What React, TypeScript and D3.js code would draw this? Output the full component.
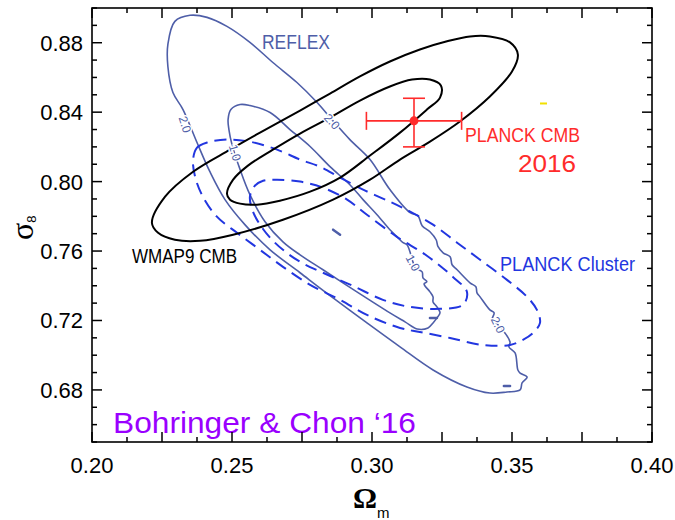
import React from "react";
import * as d3 from "d3";

// Axis tick values (Ωm on x, σ8 on y)
const xLabelTicks = [0.2, 0.25, 0.3, 0.35, 0.4];
const yLabelTicks = [0.68, 0.72, 0.76, 0.8, 0.84, 0.88];

// REFLEX cluster constraints: contour levels 2.0 and 1.0 as (Ωm, σ8) outlines
const reflexLevel2: [number, number][] = [
  [0.2271, 0.8663], [0.2271, 0.879], [0.2296, 0.8923], [0.235, 0.8958], [0.2411, 0.8946],
  [0.2482, 0.8894], [0.2564, 0.8802], [0.2646, 0.8686], [0.2732, 0.8571], [0.2804, 0.8456],
  [0.2857, 0.8357], [0.2921, 0.8242], [0.2993, 0.8127], [0.3064, 0.7954], [0.3136, 0.7821],
  [0.3164, 0.7804], [0.3179, 0.7746], [0.3207, 0.7711], [0.3229, 0.7665], [0.3236, 0.7625],
  [0.3254, 0.759], [0.3279, 0.7567], [0.3286, 0.7521], [0.3304, 0.7492], [0.335, 0.7417],
  [0.3371, 0.7394], [0.3375, 0.7359], [0.3386, 0.7336], [0.3421, 0.7261], [0.3436, 0.7244],
  [0.3429, 0.7204], [0.345, 0.7175], [0.3493, 0.7076], [0.3489, 0.7048], [0.3511, 0.7013],
  [0.3521, 0.6915], [0.3529, 0.6897], [0.3554, 0.6874], [0.3536, 0.684], [0.3529, 0.68],
  [0.3482, 0.6788], [0.3421, 0.6782], [0.3339, 0.6817], [0.3218, 0.6915], [0.31, 0.7048],
  [0.2982, 0.7186], [0.2861, 0.733], [0.2743, 0.7475], [0.2636, 0.7607], [0.2546, 0.7752],
  [0.2475, 0.7896], [0.2421, 0.8057], [0.2375, 0.8225], [0.2325, 0.8415], [0.2289, 0.8513],
];

const reflexLevel1: [number, number][] = [
  [0.2486, 0.8357], [0.2496, 0.8415], [0.2529, 0.8444], [0.2564, 0.8438], [0.2636, 0.8398],
  [0.2707, 0.83], [0.2779, 0.8202], [0.285, 0.8086], [0.2921, 0.7982], [0.2968, 0.7896],
  [0.3018, 0.7809], [0.3064, 0.7723], [0.3086, 0.7688], [0.3111, 0.7648], [0.3125, 0.7636],
  [0.3146, 0.7538], [0.3154, 0.7503], [0.3179, 0.748], [0.3182, 0.7446], [0.3196, 0.7423],
  [0.3186, 0.7411], [0.3207, 0.7365], [0.3218, 0.7336], [0.3218, 0.7307], [0.3232, 0.7278],
  [0.3243, 0.7244], [0.3232, 0.7215], [0.3218, 0.7186], [0.32, 0.7157], [0.3161, 0.7151],
  [0.3118, 0.7192], [0.3064, 0.7244], [0.2946, 0.7365], [0.2825, 0.7492], [0.2743, 0.7578],
  [0.2682, 0.7653], [0.2618, 0.7769], [0.2564, 0.7925], [0.2529, 0.8069], [0.25, 0.8213],
  [0.2489, 0.83],
];

// Small isolated REFLEX contour fragments
const reflexIslands: [number, number][][] = [
  [[0.2861, 0.7723], [0.2886, 0.7694]],
  [[0.3207, 0.7215], [0.3232, 0.7215]],
  [[0.3471, 0.6823], [0.3493, 0.6823]],
];

// Planck SZ cluster constraints (dashed)
const planckClusterOuter: [number, number][] = [
  [0.2361, 0.8127], [0.2375, 0.8196], [0.2411, 0.8225], [0.2482, 0.8242], [0.2564, 0.823],
  [0.2661, 0.8184], [0.2743, 0.8127], [0.2814, 0.8086], [0.2886, 0.8023], [0.2968, 0.7954],
  [0.3064, 0.7884], [0.3136, 0.7827], [0.3218, 0.7752], [0.3304, 0.7648], [0.3386, 0.755],
  [0.3482, 0.7434], [0.3554, 0.7336], [0.3589, 0.7261], [0.36, 0.7186], [0.3575, 0.7128],
  [0.3539, 0.7088], [0.3493, 0.7059], [0.3396, 0.7059], [0.3279, 0.7099], [0.3171, 0.7134],
  [0.31, 0.7157], [0.2982, 0.7232], [0.2886, 0.7319], [0.2779, 0.7405], [0.2682, 0.7509],
  [0.26, 0.7607], [0.2518, 0.7705], [0.2446, 0.7798], [0.2396, 0.7913], [0.2368, 0.8029],
];

const planckClusterInner: [number, number][] = [
  [0.2564, 0.7913], [0.2582, 0.7977], [0.2611, 0.8005], [0.2661, 0.8011], [0.2743, 0.8],
  [0.2825, 0.7965], [0.2911, 0.7896], [0.2982, 0.7809], [0.3089, 0.7682], [0.3196, 0.7573],
  [0.3289, 0.7451], [0.3339, 0.7365], [0.3325, 0.729], [0.3243, 0.7267], [0.3136, 0.7278],
  [0.3039, 0.7319], [0.2932, 0.7399], [0.2825, 0.7475], [0.2743, 0.7538], [0.2682, 0.7607],
  [0.2636, 0.7677], [0.26, 0.7752], [0.2575, 0.7827],
];

// WMAP9 CMB confidence ellipses
const wmapOuter: [number, number][] = [
  [0.2214, 0.7763], [0.2261, 0.7913], [0.2361, 0.8057], [0.2493, 0.8184], [0.26, 0.8282],
  [0.2743, 0.8409], [0.285, 0.8507], [0.2957, 0.8606], [0.3064, 0.8692], [0.3171, 0.8761],
  [0.3268, 0.8808], [0.335, 0.8836], [0.3421, 0.8836], [0.3493, 0.8802], [0.3521, 0.8732],
  [0.35, 0.8634], [0.3421, 0.849], [0.3314, 0.8346], [0.3207, 0.823], [0.31, 0.8127],
  [0.2993, 0.8011], [0.2861, 0.7896], [0.2682, 0.778], [0.2504, 0.7694], [0.2386, 0.7659],
  [0.2296, 0.7665], [0.2236, 0.7705],
];

const wmapInner: [number, number][] = [
  [0.2482, 0.793], [0.2504, 0.8011], [0.2557, 0.8092], [0.2646, 0.8184], [0.2743, 0.8277],
  [0.285, 0.8369], [0.2957, 0.8467], [0.3064, 0.8548], [0.3143, 0.8588], [0.3207, 0.8588],
  [0.3246, 0.8554], [0.3243, 0.8484], [0.3196, 0.8415], [0.31, 0.8282], [0.2993, 0.815],
  [0.2886, 0.8023], [0.2779, 0.7942], [0.2671, 0.789], [0.2589, 0.7867], [0.2529, 0.7873],
  [0.2493, 0.7896],
];

// Planck CMB 2016 point with errors
const planckCmb = { om: 0.315, s8: 0.835, omErr: 0.017, s8ErrUp: 0.013, s8ErrDown: 0.015 };

// Contour level labels: [Ωm, σ8, text, angle]
const levelLabels: [number, number, string, number][] = [
  [0.2332, 0.8329, "2.0", 72],
  [0.2857, 0.8346, "2.0", 48],
  [0.2511, 0.8167, "1.0", 75],
  [0.3146, 0.7532, "1.0", 62],
  [0.345, 0.7175, "2.0", 64],
];

// Stray yellow mark
const yellowMark: [number, number][] = [[0.3600, 0.845], [0.3625, 0.845]];

const SLATE = "#4e5ea8";
const BLUE = "#2236e0";
const RED = "#ff2b2b";
const PURPLE = "#9a00ff";
const SANS = "'Liberation Sans', Arial, Helvetica, sans-serif";
const SERIF = "'Liberation Serif', 'Times New Roman', serif";

export default function App() {
  const L = 92, R = 652, T = 8, B = 442;
  const x = d3.scaleLinear().domain([0.2, 0.4]).range([L, R]);
  const y = d3.scaleLinear().domain([0.65, 0.9]).range([B, T]);

  const closed = d3
    .line<[number, number]>()
    .x((d) => x(d[0]))
    .y((d) => y(d[1]))
    .curve(d3.curveCatmullRomClosed.alpha(0.5));
  const open = d3
    .line<[number, number]>()
    .x((d) => x(d[0]))
    .y((d) => y(d[1]));

  const xMajor = d3.range(0, 9).map((i) => 0.2 + i * 0.025);
  const xMinor = d3.range(0, 8).map((i) => 0.2125 + i * 0.025);
  const yMinor = d3.range(0, 26).map((i) => 0.65 + i * 0.01).filter(
    (v) => !yLabelTicks.some((t) => Math.abs(t - v) < 1e-6)
  );

  const tick = (k: string, x1: number, y1: number, x2: number, y2: number) => (
    <line key={k} x1={x1} y1={y1} x2={x2} y2={y2} stroke="#000" strokeWidth={1.5} />
  );

  return (
    <svg
      width={675}
      height={520}
      style={{ position: "absolute", left: 0, top: 0, background: "#fff" }}
    >
      <rect width={675} height={520} fill="#fff" />

      {/* REFLEX contours */}
      <g fill="none" stroke={SLATE} strokeWidth={1.6} strokeLinejoin="round">
        <path d={closed(reflexLevel2) || ""} />
        <path d={closed(reflexLevel1) || ""} />
        {reflexIslands.map((s, i) => (
          <path key={i} d={open(s) || ""} strokeWidth={2.5} strokeLinecap="round" />
        ))}
      </g>

      {/* Planck cluster contours */}
      <g fill="none" stroke={BLUE} strokeWidth={2} strokeDasharray="12 7">
        <path d={closed(planckClusterOuter) || ""} />
        <path d={closed(planckClusterInner) || ""} />
      </g>

      {/* WMAP9 ellipses */}
      <g fill="none" stroke="#000" strokeWidth={2}>
        <path d={closed(wmapOuter) || ""} />
        <path d={closed(wmapInner) || ""} />
      </g>

      {/* contour level labels */}
      {levelLabels.map(([om, s8, t, a], i) => (
        <text
          key={i}
          transform={`translate(${x(om)},${y(s8)}) rotate(${a})`}
          textAnchor="middle"
          dy="0.35em"
          fontFamily={SANS}
          fontSize={12}
          fill={SLATE}
          stroke="#fff"
          strokeWidth={3}
          paintOrder="stroke"
        >
          {t}
        </text>
      ))}

      {/* Planck CMB point */}
      <g stroke={RED} strokeWidth={1.6}>
        <line x1={x(planckCmb.om - planckCmb.omErr)} x2={x(planckCmb.om + planckCmb.omErr)} y1={y(planckCmb.s8)} y2={y(planckCmb.s8)} />
        <line x1={x(planckCmb.om)} x2={x(planckCmb.om)} y1={y(planckCmb.s8 + planckCmb.s8ErrUp)} y2={y(planckCmb.s8 - planckCmb.s8ErrDown)} />
        <line x1={x(planckCmb.om) - 11} x2={x(planckCmb.om) + 11} y1={y(planckCmb.s8 + planckCmb.s8ErrUp)} y2={y(planckCmb.s8 + planckCmb.s8ErrUp)} />
        <line x1={x(planckCmb.om) - 11} x2={x(planckCmb.om) + 11} y1={y(planckCmb.s8 - planckCmb.s8ErrDown)} y2={y(planckCmb.s8 - planckCmb.s8ErrDown)} />
        <line x1={x(planckCmb.om - planckCmb.omErr)} x2={x(planckCmb.om - planckCmb.omErr)} y1={y(planckCmb.s8) - 9} y2={y(planckCmb.s8) + 9} />
        <line x1={x(planckCmb.om + planckCmb.omErr)} x2={x(planckCmb.om + planckCmb.omErr)} y1={y(planckCmb.s8) - 9} y2={y(planckCmb.s8) + 9} />
      </g>
      <circle cx={x(planckCmb.om)} cy={y(planckCmb.s8)} r={4.5} fill={RED} />

      <path d={open(yellowMark) || ""} stroke="#f2e000" strokeWidth={2} />

      {/* annotations */}
      <text x={262} y={49} fontFamily={SANS} fontSize={21} fill={SLATE} textLength={68} lengthAdjust="spacingAndGlyphs">REFLEX</text>
      <text x={132} y={263} fontFamily={SANS} fontSize={20} fill="#000" textLength={105} lengthAdjust="spacingAndGlyphs">WMAP9 CMB</text>
      <text x={465} y={142} fontFamily={SANS} fontSize={20} fill={RED} textLength={115} lengthAdjust="spacingAndGlyphs">PLANCK CMB</text>
      <text x={518} y={172} fontFamily={SANS} fontSize={24} fill={RED} textLength={58} lengthAdjust="spacingAndGlyphs">2016</text>
      <text x={500} y={271} fontFamily={SANS} fontSize={20} fill={BLUE} textLength={135} lengthAdjust="spacingAndGlyphs">PLANCK Cluster</text>
      <text x={113} y={433} fontFamily={SANS} fontSize={30} fill={PURPLE} textLength={303} lengthAdjust="spacingAndGlyphs">Bohringer &amp; Chon ‘16</text>

      {/* frame */}
      <rect x={L} y={T} width={R - L} height={B - T} fill="none" stroke="#000" strokeWidth={1.6} />

      {/* x ticks (bottom and top) */}
      {xMajor.map((v, i) => (
        <g key={`xM${i}`}>
          {tick(`b${i}`, x(v), B, x(v), B - 10)}
          {tick(`t${i}`, x(v), T, x(v), T + 10)}
        </g>
      ))}
      {xMinor.map((v, i) => (
        <g key={`xm${i}`}>
          {tick(`b${i}`, x(v), B, x(v), B - 5)}
          {tick(`t${i}`, x(v), T, x(v), T + 5)}
        </g>
      ))}
      {/* y ticks (left and right) */}
      {yLabelTicks.map((v, i) => (
        <g key={`yM${i}`}>
          {tick(`l${i}`, L, y(v), L + 10, y(v))}
          {tick(`r${i}`, R, y(v), R - 10, y(v))}
        </g>
      ))}
      {yMinor.map((v, i) => (
        <g key={`ym${i}`}>
          {tick(`l${i}`, L, y(v), L + 5, y(v))}
          {tick(`r${i}`, R, y(v), R - 5, y(v))}
        </g>
      ))}

      {/* tick labels */}
      {xLabelTicks.map((v) => (
        <text key={`xl${v}`} x={x(v)} y={473} textAnchor="middle" fontFamily={SANS} fontSize={22} fill="#000">
          {v.toFixed(2)}
        </text>
      ))}
      {yLabelTicks.map((v) => (
        <text key={`yl${v}`} x={83} y={y(v)} dy="0.36em" textAnchor="end" fontFamily={SANS} fontSize={22} fill="#000">
          {v.toFixed(2)}
        </text>
      ))}

      {/* axis titles */}
      <text x={353} y={508} fontFamily={SERIF} fontSize={30} fontWeight="bold" fill="#000">
        Ω
        <tspan fontFamily={SANS} fontSize={15} fontWeight="normal" dy={10}>m</tspan>
      </text>
      <text transform="translate(33,240) rotate(-90)" fontFamily={SERIF} fontSize={32} fill="#000">
        σ
        <tspan fontFamily={SANS} fontSize={13} dy={3}>8</tspan>
      </text>
    </svg>
  );
}
